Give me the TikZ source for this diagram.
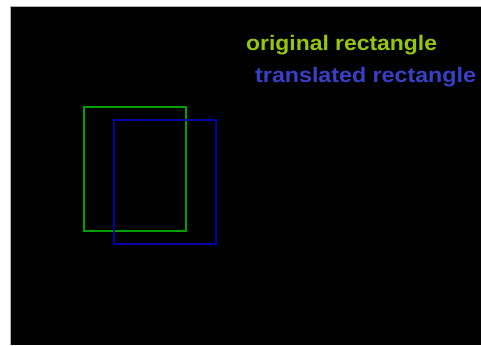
\documentclass[tikz,border=0pt]{standalone}
\usepackage{fontspec}
\setmainfont{Liberation Sans}
\definecolor{origtxt}{RGB}{150,200,10}
\definecolor{transtxt}{RGB}{55,65,200}
\definecolor{origline}{RGB}{0,160,0}
\definecolor{transline}{RGB}{0,0,170}
\tikzset{
  lbl/.style={anchor=base west, inner sep=0pt, font=\fontsize{21}{21}\selectfont\bfseries, xscale=1.09},
  rectline/.style={line width=2pt}
}
\begin{document}
\begin{tikzpicture}[x=1pt,y=-1pt]
\useasboundingbox (0,0) rectangle (481,345);
\fill[white] (0,0) rectangle (481,345);
\fill[black] (10,6) rectangle (481,345);
\draw[gray!60, line width=0.6pt] (10,345) -- (10,6) -- (481,6);
\node[lbl, text=origtxt] (orig) at (246,50) {original rectangle};
\node[lbl, text=transtxt, xscale=1.015] (trans) at (255,82) {translated rectangle};
\draw[rectline, origline] (84,107) rectangle (186,231);
\draw[rectline, transline] (114,120) rectangle (216,244);
\end{tikzpicture}
\end{document}
